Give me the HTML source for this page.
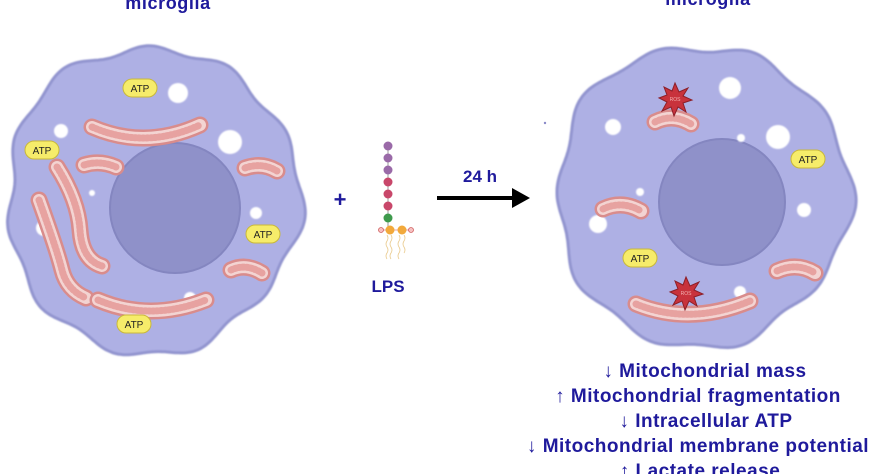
<!DOCTYPE html>
<html><head><meta charset="utf-8"><style>
html,body{margin:0;padding:0;background:#fff;width:870px;height:474px;overflow:hidden}
svg{display:block}
.t{font-family:"Liberation Sans",sans-serif;font-weight:bold;fill:#1f1a9c}
.atp{font-family:"Liberation Sans",sans-serif;font-size:10px;fill:#222}
</style></head><body>
<svg id="s" width="870" height="474" viewBox="0 0 870 474">
<defs>
<filter id="bl"><feGaussianBlur stdDeviation="0.8"/></filter>
<g id="star"><polygon points="0,-16 4,-7 13,-11 8,-3 17,1 8,4 11,13 3,8 -1,17 -4,8 -13,12 -8,3 -16,-1 -8,-4 -11,-12 -3,-8" fill="#c8323c" stroke="#8c1f28" stroke-width="1"/><text x="0" y="2" font-size="5" text-anchor="middle" fill="#f3b0b0" font-family="Liberation Sans">ROS</text></g>
</defs>
<text class="t" x="168" y="9" font-size="18" letter-spacing="0.6" text-anchor="middle">microglia</text>
<text class="t" x="708" y="5" font-size="18" letter-spacing="0.6" text-anchor="middle">microglia</text>
<path id="c1" fill="#aeb0e4" stroke="#9294cf" stroke-width="3" filter="url(#bl)"/>
<path id="c2" fill="#aeb0e4" stroke="#9294cf" stroke-width="3" filter="url(#bl)"/>
<circle cx="175" cy="208" r="65" fill="#8f91c9" stroke="#8486c0" stroke-width="2"/>
<circle cx="722" cy="202" r="63" fill="#8f91c9" stroke="#8486c0" stroke-width="2"/>
<g fill="#fff" filter="url(#bl)">
<circle cx="178" cy="93" r="10"/><circle cx="61" cy="131" r="7"/><circle cx="230" cy="142" r="12"/><circle cx="256" cy="213" r="6"/><circle cx="44" cy="228" r="8"/><circle cx="190" cy="298" r="6"/><circle cx="92" cy="193" r="3"/>
<circle cx="730" cy="88" r="11"/><circle cx="613" cy="127" r="8"/><circle cx="778" cy="137" r="12"/><circle cx="741" cy="138" r="4"/><circle cx="640" cy="192" r="4"/><circle cx="804" cy="210" r="7"/><circle cx="598" cy="224" r="9"/><circle cx="740" cy="292" r="6"/>
</g>
<g id="mitos" fill="none" stroke-linecap="round"></g>
<g class="atpg">
<g transform="translate(140,88)"><rect x="-17" y="-9" width="34" height="18" rx="9" fill="#f6ec6a" stroke="#c9b83a"/><text class="atp" y="4" text-anchor="middle">ATP</text></g>
<g transform="translate(42,150)"><rect x="-17" y="-9" width="34" height="18" rx="9" fill="#f6ec6a" stroke="#c9b83a"/><text class="atp" y="4" text-anchor="middle">ATP</text></g>
<g transform="translate(263,234)"><rect x="-17" y="-9" width="34" height="18" rx="9" fill="#f6ec6a" stroke="#c9b83a"/><text class="atp" y="4" text-anchor="middle">ATP</text></g>
<g transform="translate(134,324)"><rect x="-17" y="-9" width="34" height="18" rx="9" fill="#f6ec6a" stroke="#c9b83a"/><text class="atp" y="4" text-anchor="middle">ATP</text></g>
<g transform="translate(808,159)"><rect x="-17" y="-9" width="34" height="18" rx="9" fill="#f6ec6a" stroke="#c9b83a"/><text class="atp" y="4" text-anchor="middle">ATP</text></g>
<g transform="translate(640,258)"><rect x="-17" y="-9" width="34" height="18" rx="9" fill="#f6ec6a" stroke="#c9b83a"/><text class="atp" y="4" text-anchor="middle">ATP</text></g>
</g>
<use href="#star" transform="translate(675,99)"/>
<use href="#star" transform="translate(686,293)"/>
<text class="t" x="340" y="207" font-size="22" text-anchor="middle">+</text>
<line x1="388" y1="146" x2="388" y2="230" stroke="#999" stroke-width="1"/>
<g stroke="none">
<circle cx="388" cy="146" r="4.5" fill="#9a6aa8"/><circle cx="388" cy="158" r="4.5" fill="#9a6aa8"/><circle cx="388" cy="170" r="4.5" fill="#9a6aa8"/>
<circle cx="388" cy="182" r="4.5" fill="#c8476a"/><circle cx="388" cy="194" r="4.5" fill="#c8476a"/><circle cx="388" cy="206" r="4.5" fill="#c8476a"/>
<circle cx="388" cy="218" r="4.5" fill="#3e9a4c"/>
</g>
<line x1="381" y1="230" x2="411" y2="230" stroke="#e8a0a0"/>
<circle cx="390" cy="230" r="4.5" fill="#f2a93b"/><circle cx="402" cy="230" r="4.5" fill="#f2a93b"/>
<circle cx="381" cy="230" r="2.5" fill="#f6c0c0" stroke="#d06060" stroke-width="0.8"/><circle cx="411" cy="230" r="2.5" fill="#f6c0c0" stroke="#d06060" stroke-width="0.8"/>
<g stroke="#e9c98a" stroke-width="0.8" fill="none">
<path d="M387,235 q2,3 0,6 q-2,3 0,6 q2,3 0,6 q-2,3 0,6"/><path d="M391,235 q2,3 0,6 q-2,3 0,6 q2,3 0,6 q-2,3 0,6"/>
<path d="M399,235 q2,3 0,6 q-2,3 0,6 q2,3 0,6 q-2,3 0,6"/><path d="M404,235 q2,3 0,6 q-2,3 0,6 q2,3 0,6"/>
</g>
<text class="t" x="388" y="292" font-size="17" text-anchor="middle">LPS</text>
<text class="t" x="480" y="182" font-size="17" text-anchor="middle">24 h</text>
<line x1="437" y1="198" x2="514" y2="198" stroke="#000" stroke-width="4"/>
<polygon points="512,188 530,198 512,208" fill="#000"/>
<circle cx="545" cy="123" r="1.2" fill="#8a8ac8"/>
<g class="t" font-size="19" letter-spacing="0.5" text-anchor="middle">
<text x="705" y="377">↓ Mitochondrial mass</text>
<text x="698" y="402">↑ Mitochondrial fragmentation</text>
<text x="706" y="427">↓ Intracellular ATP</text>
<text x="698" y="452">↓ Mitochondrial membrane potential</text>
<text x="700" y="477">↑ Lactate release</text>
</g>
</svg>
<script>
function blob(cx,cy,rx,ry,n,a,ph){let d='';for(let i=0;i<=360;i++){let t=i/360*2*Math.PI;let r=1+a*Math.sin(n*t+ph)+0.015*Math.sin(5*t+1)+0.02*Math.sin(3*t+2);let x=cx+rx*r*Math.cos(t),y=cy+ry*r*Math.sin(t);d+=(i?'L':'M')+x.toFixed(1)+','+y.toFixed(1);}return d+'Z';}
document.getElementById('c1').setAttribute('d',blob(152,200,146,153,11,0.025,0.3));
document.getElementById('c2').setAttribute('d',blob(702,196,146,150,10,0.025,1.2));
const M=[["M92,127 Q145,150 200,125"],["M84,165 Q100,160 116,167"],["M245,168 Q262,162 277,171"],["M57,167 Q78,200 80,230 T102,266"],["M39,200 Q57,250 62,270 T86,298"],["M98,300 Q150,322 206,300"],["M231,270 Q246,263 262,273"],
["M655,122 Q673,113 691,124"],["M603,209 Q622,200 641,211"],["M777,271 Q797,262 815,273"],["M636,304 Q690,326 750,301"]];
const g=document.getElementById('mitos');let h='';
for(const [d] of M){h+=`<path d="${d}" stroke="#d98c8c" stroke-width="17"/><path d="${d}" stroke="#f3d4d2" stroke-width="12"/><path d="${d}" stroke="#e7a2a0" stroke-width="7" stroke-dasharray="1.5 2.5"/>`;}
g.innerHTML=h;
</script>
</body></html>
